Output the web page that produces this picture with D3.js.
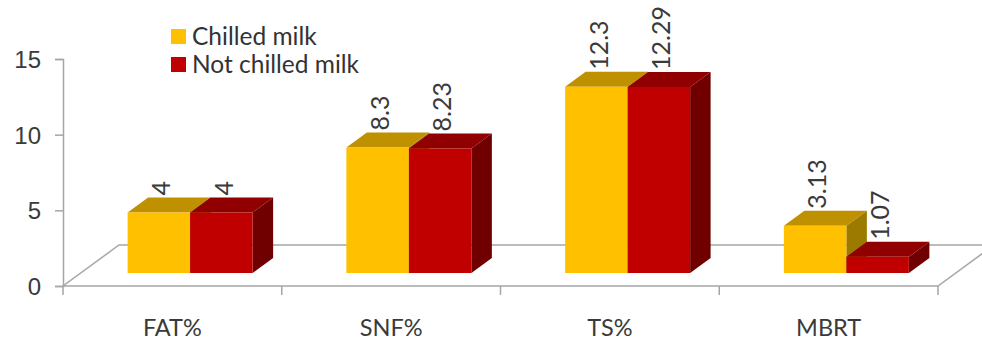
<!DOCTYPE html>
<html>
<head>
<meta charset="utf-8">
<script src="https://cdn.jsdelivr.net/npm/d3@7"></script>
<style>
  html, body { margin: 0; padding: 0; background: #fff; }
  svg { display: block; font-family: Lato, "Open Sans", sans-serif; }
</style>
</head>
<body>
<svg id="chart" width="982" height="340"></svg>
<script>
// Milk quality parameters, chilled vs not chilled
const categories = ["FAT%", "SNF%", "TS%", "MBRT"];
const seriesNames = ["Chilled milk", "Not chilled milk"];
const chilledValues = [4, 8.3, 12.3, 3.13];
const notChilledValues = [4, 8.23, 12.29, 1.07];
const valueLabelsChilled = ["4", "8.3", "12.3", "3.13"];
const valueLabelsNotChilled = ["4", "8.23", "12.29", "1.07"];
const yTicks = [0, 5, 10, 15];

const seriesValues = [chilledValues, notChilledValues];
const seriesLabels = [valueLabelsChilled, valueLabelsNotChilled];

// face colours per series: front, top, side
const faceColors = [
  { front: "#FFC000", top: "#BF9000", side: "#9C7A00" },
  { front: "#C00000", top: "#900000", side: "#700000" }
];

const svg = d3.select("#chart");
const textColor = "#3A3A3A";
const axisColor = "#A6A6A6";

// plot frame (front plane) and oblique depth vector
const left = 63, right = 938, floorY = 286, topY = 59;
const depth = { dx: 56, dy: -41 };
const z0 = 0.317, z1 = 0.683;   // bar depth slice inside the floor

const x = d3.scaleBand().domain(categories).range([left, right]).paddingInner(0).paddingOuter(0);
const xs = d3.scaleBand().domain(seriesNames).range([0, x.bandwidth()]).paddingInner(0).paddingOuter(0.75);
const y = d3.scaleLinear().domain([0, 15]).range([floorY, topY]);

const proj = (px, val, z) => [px + depth.dx * z, y(val) + depth.dy * z];

// floor parallelogram
const floorPts = [proj(left, 0, 0), proj(right, 0, 0), proj(right, 0, 1), proj(left, 0, 1)];
svg.append("polygon")
  .attr("points", floorPts.map(p => p.join(",")).join(" "))
  .attr("fill", "#fff")
  .attr("stroke", axisColor)
  .attr("stroke-width", 1.5);

// value axis
const yAxis = d3.axisLeft(y).tickValues(yTicks).tickSize(8).tickPadding(14).tickFormat(d3.format("d"));
const yg = svg.append("g").attr("transform", `translate(${left},0)`).call(yAxis);
yg.select(".domain").attr("stroke", axisColor).attr("stroke-width", 1.5);
yg.selectAll(".tick line").attr("stroke", axisColor).attr("stroke-width", 1.5);
yg.selectAll(".tick text").attr("fill", textColor).attr("font-size", 24).attr("dy", "0.36em");

// category axis ticks at band boundaries
const boundaries = categories.map(c => x(c)).concat([right]);
svg.append("g").selectAll("line").data(boundaries).join("line")
  .attr("x1", d => d).attr("x2", d => d)
  .attr("y1", floorY).attr("y2", floorY + 9)
  .attr("stroke", axisColor).attr("stroke-width", 1.5);

// category labels
svg.append("g").selectAll("text").data(categories).join("text")
  .attr("x", d => x(d) + x.bandwidth() / 2)
  .attr("y", 328)
  .attr("dy", "0.36em")
  .attr("text-anchor", "middle")
  .attr("font-size", 23.5)
  .attr("fill", textColor)
  .text(d => d);

// 3D bars
const barsG = svg.append("g");
categories.forEach((cat, ci) => {
  seriesNames.forEach((s, si) => {
    const v = seriesValues[si][ci];
    const xl = x(cat) + xs(s);
    const xr = xl + xs.bandwidth();
    const c = faceColors[si];
    const pts = arr => arr.map(p => p.join(",")).join(" ");
    // right side
    barsG.append("polygon")
      .attr("points", pts([proj(xr, 0, z0), proj(xr, v, z0), proj(xr, v, z1), proj(xr, 0, z1)]))
      .attr("fill", c.side);
    // top
    barsG.append("polygon")
      .attr("points", pts([proj(xl, v, z0), proj(xr, v, z0), proj(xr, v, z1), proj(xl, v, z1)]))
      .attr("fill", c.top);
    // front
    barsG.append("polygon")
      .attr("points", pts([proj(xl, 0, z0), proj(xr, 0, z0), proj(xr, v, z0), proj(xl, v, z0)]))
      .attr("fill", c.front);
  });
});

// rotated value labels above each bar
const labelsG = svg.append("g");
categories.forEach((cat, ci) => {
  seriesNames.forEach((s, si) => {
    const v = seriesValues[si][ci];
    const xc = x(cat) + xs(s) + xs.bandwidth() / 2;
    const [tx] = proj(xc, v, (z0 + z1) / 2);
    const [, ty] = proj(xc, v, z1);
    labelsG.append("text")
      .attr("transform", `translate(${tx - 8},${ty - 2}) rotate(-90)`)
      .attr("dy", "0.36em")
      .attr("text-anchor", "start")
      .attr("font-size", 25)
      .attr("fill", textColor)
      .text(seriesLabels[si][ci]);
  });
});

// legend
const legend = svg.append("g");
seriesNames.forEach((s, i) => {
  const cy = 36 + i * 28;
  legend.append("rect")
    .attr("x", 171).attr("y", cy - 7).attr("width", 15).attr("height", 15)
    .attr("fill", faceColors[i].front);
  legend.append("text")
    .attr("x", 192).attr("y", cy)
    .attr("dy", "0.36em")
    .attr("font-size", 24.5)
    .attr("fill", "#333")
    .text(s);
});
</script>
</body>
</html>
